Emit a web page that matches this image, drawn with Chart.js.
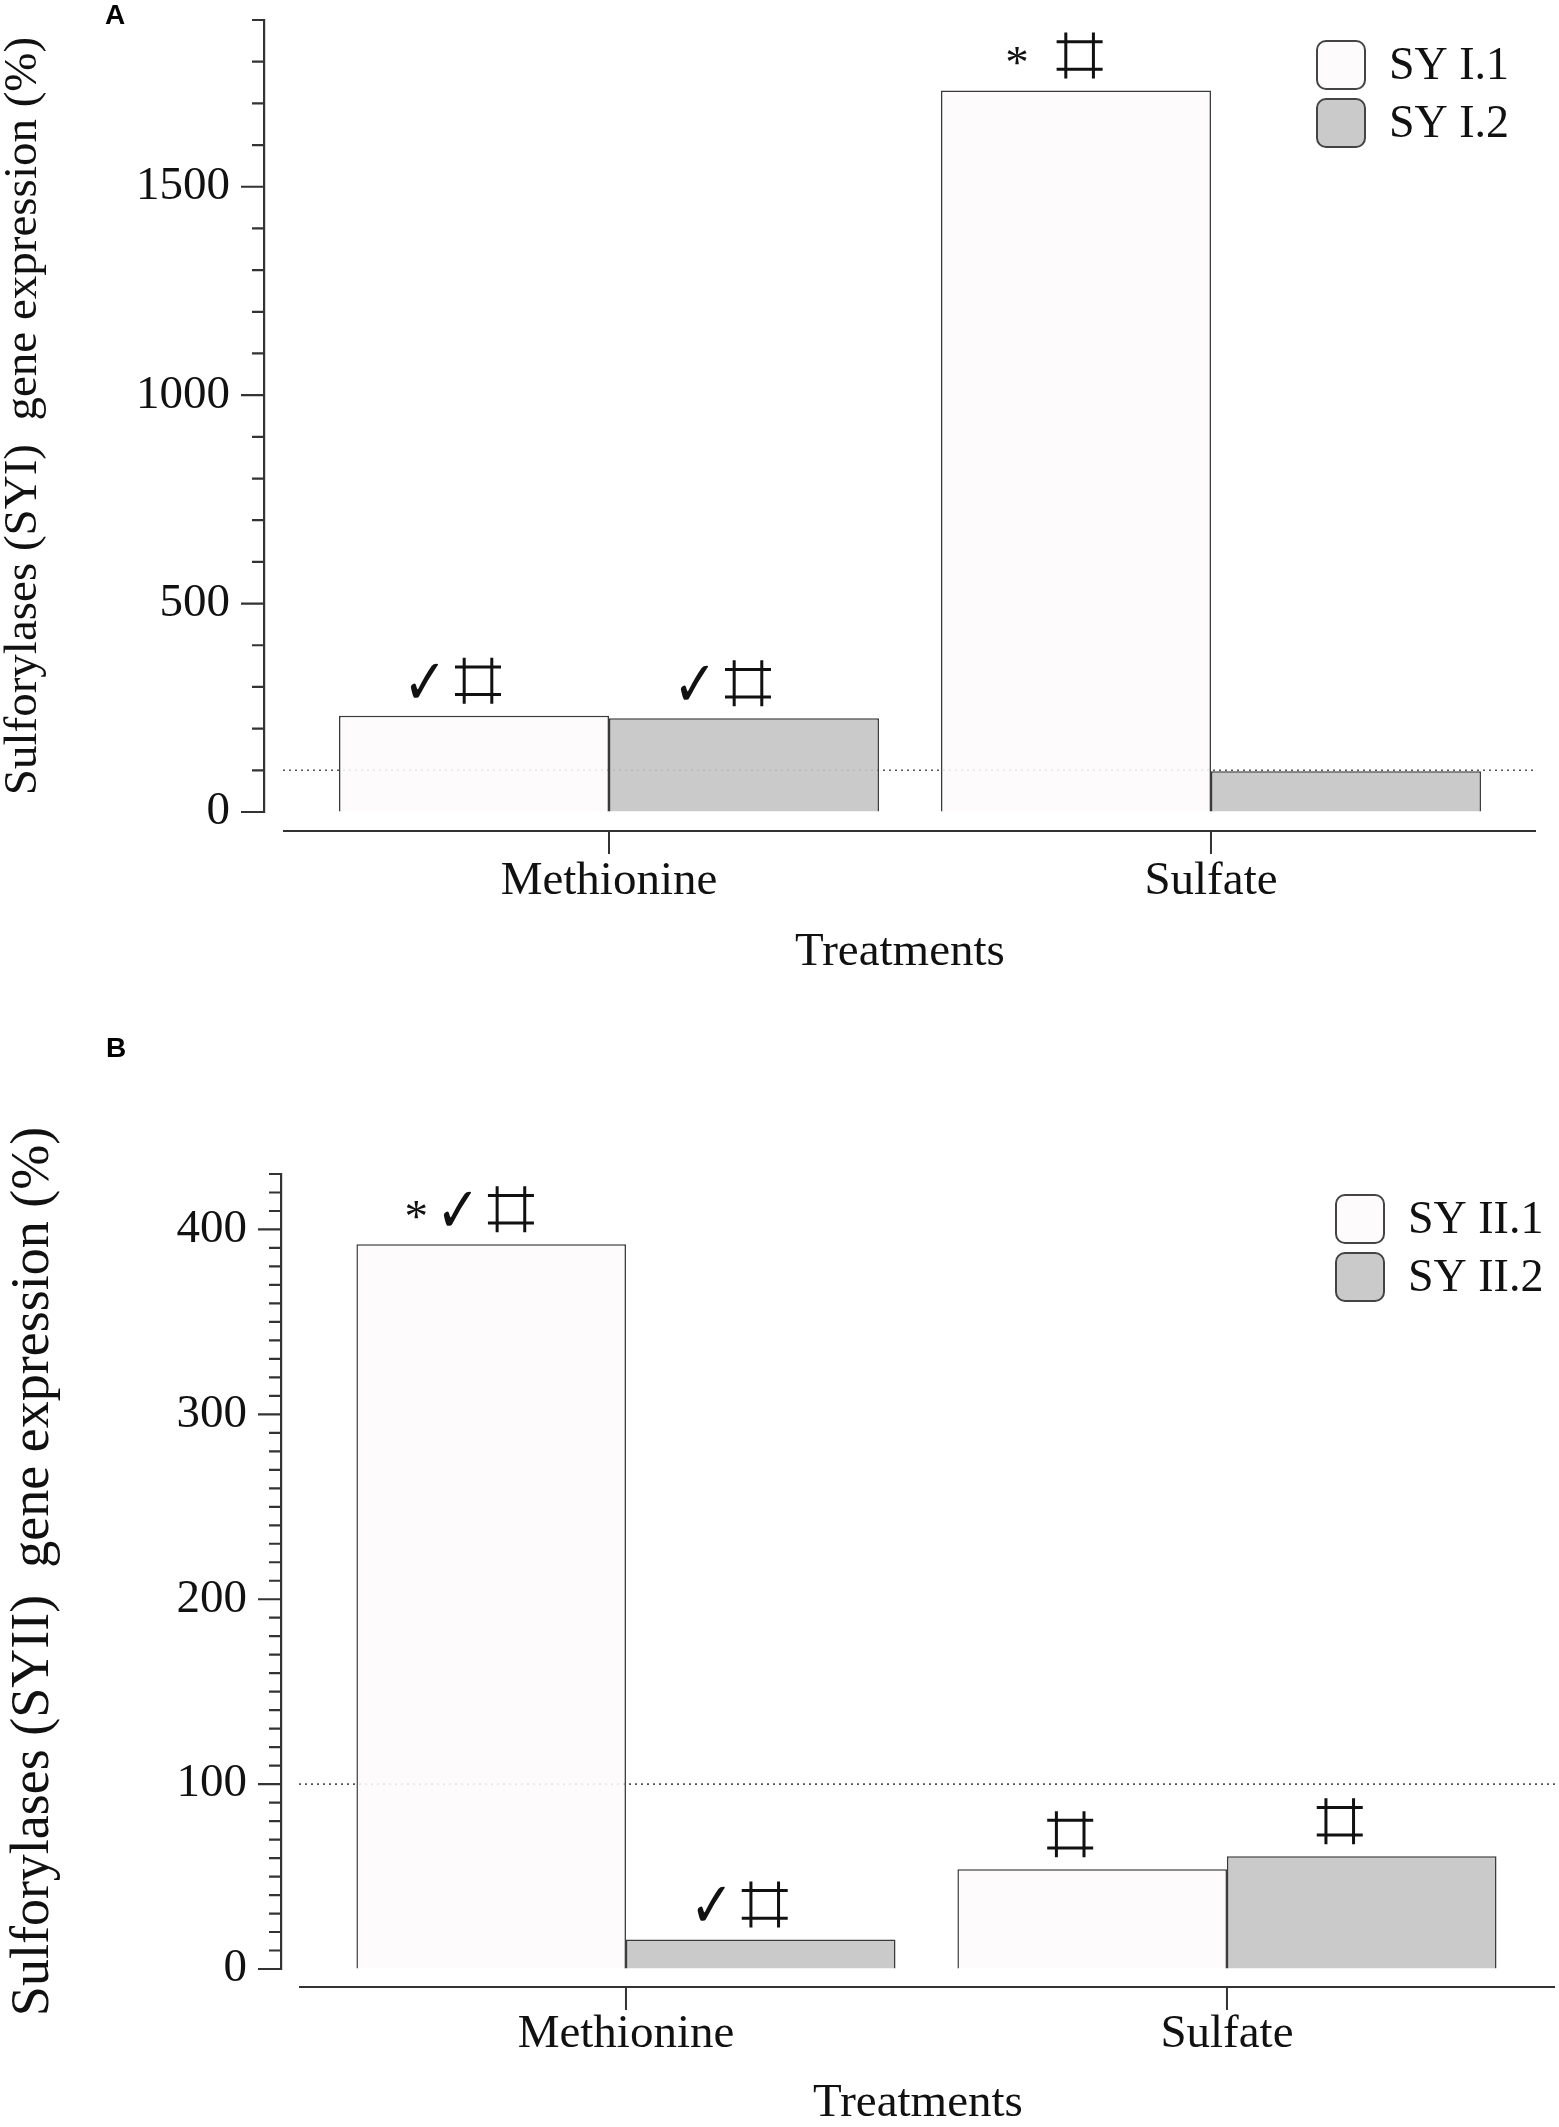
<!DOCTYPE html>
<html lang="en">
<head>
<meta charset="UTF-8">
<title>Sulforylases gene expression</title>
<script src="https://cdn.jsdelivr.net/npm/chart.js@4.4.1/dist/chart.umd.min.js"></script>
<style>
  html, body { margin: 0; padding: 0; background: #fff; }
  body { width: 1559px; height: 2127px; position: relative; overflow: hidden; }
  canvas { position: absolute; left: 0; }
  #chartA { top: 0; }
  #chartB { top: 1000px; }
</style>
</head>
<body>
<canvas id="chartA" width="1559" height="1000"></canvas>
<canvas id="chartB" width="1559" height="1127"></canvas>
<script>
const treatments = ['Methionine', 'Sulfate'];
const controlLevel = 100; // dotted line, control = 100 %

// panel A - SYI
const seriesA = ['SY I.1', 'SY I.2'];
const syI1 = [231, 1731];
const syI2 = [225, 98];
const marksA = [['✓⌗', '* ⌗'], ['✓⌗', '']];
const yTicksA = { max: 1900, step: 100, major: 500 };

// panel B - SYII
const seriesB = ['SY II.1', 'SY II.2'];
const syII1 = [392, 54];
const syII2 = [16, 61];
const marksB = [['*✓⌗', '⌗'], ['✓⌗', '⌗']];
const yTicksB = { max: 430, step: 10, major: 100 };

const serif = '"Liberation Serif", "Times New Roman", serif';
const fills = ['rgba(253,250,251,0.88)', 'rgba(196,196,196,0.9)'];
const ink = '#111';
const checkFont = '64px "DejaVu Sans"';
const checkSqueeze = 0.82;

function drawHash(ctx, x, base, s) {
  // upright hash sign, like the one in the figure
  const a = s * 0.2, b = s * 0.8;
  ctx.save();
  ctx.strokeStyle = ink;
  ctx.lineWidth = 3;
  ctx.beginPath();
  ctx.moveTo(x + a, base - s); ctx.lineTo(x + a, base);
  ctx.moveTo(x + b, base - s); ctx.lineTo(x + b, base);
  ctx.moveTo(x, base - b); ctx.lineTo(x + s, base - b);
  ctx.moveTo(x, base - a); ctx.lineTo(x + s, base - a);
  ctx.stroke();
  ctx.restore();
}

function drawMarks(ctx, text, cx, base) {
  const gap = 8;
  const parts = Array.from(text).map(ch => {
    if (ch === '⌗') return { ch, w: 46 };
    if (ch === '✓') {
      ctx.font = checkFont;
      return { ch, w: ctx.measureText(ch).width * checkSqueeze };
    }
    ctx.font = '47px ' + serif;
    return { ch, w: ctx.measureText(ch).width };
  });
  const total = parts.reduce((t, p) => t + p.w, 0) + gap * (parts.length - 1);
  let x = cx - total / 2;
  ctx.fillStyle = ink;
  ctx.textAlign = 'left';
  ctx.textBaseline = 'alphabetic';
  parts.forEach(p => {
    if (p.ch === '⌗') {
      drawHash(ctx, x, base, 46);
    } else if (p.ch === '✓') {
      ctx.save();
      ctx.font = checkFont;
      ctx.translate(x, base);
      ctx.scale(checkSqueeze, 1);
      ctx.fillText(p.ch, 0, 0);
      ctx.restore();
    } else {
      ctx.font = '47px ' + serif;
      ctx.fillText(p.ch, x, base);
    }
    x += p.w + gap;
  });
}

const panelPlugin = {
  id: 'panel',
  beforeDatasetsDraw(chart, args, opts) {
    const { ctx, chartArea } = chart;
    const y = chart.scales.y.getPixelForValue(controlLevel);
    ctx.save();
    ctx.strokeStyle = '#555';
    ctx.lineWidth = 1.6;
    ctx.setLineDash([2, 4]);
    ctx.beginPath();
    ctx.moveTo(chartArea.left + opts.gap, y);
    ctx.lineTo(chartArea.right, y);
    ctx.stroke();
    ctx.restore();
  },
  afterDatasetsDraw(chart, args, opts) {
    const { ctx, chartArea } = chart;
    const xs = chart.scales.x, ys = chart.scales.y;
    ctx.save();
    ctx.strokeStyle = '#333';

    // x axis line below zero, R style
    const axisY = chartArea.bottom + opts.gap;
    ctx.lineWidth = 2;
    ctx.beginPath();
    ctx.moveTo(chartArea.left + opts.gap, axisY);
    ctx.lineTo(chartArea.right, axisY);
    treatments.forEach((t, i) => {
      const px = xs.getPixelForValue(i);
      ctx.moveTo(px, axisY);
      ctx.lineTo(px, axisY + 23);
    });
    ctx.stroke();

    // y ticks: long at labelled values, short in between
    ctx.lineWidth = 2.2;
    ctx.beginPath();
    for (let k = 0; k * opts.ticks.step <= opts.ticks.max; k++) {
      const v = k * opts.ticks.step;
      const py = ys.getPixelForValue(v);
      const len = v % opts.ticks.major === 0 ? 23 : 12;
      ctx.moveTo(chartArea.left - len, py);
      ctx.lineTo(chartArea.left, py);
    }
    ctx.stroke();

    // significance marks over the bars
    chart.data.datasets.forEach((ds, d) => {
      chart.getDatasetMeta(d).data.forEach((bar, i) => {
        const txt = opts.marks[d][i];
        if (txt) drawMarks(ctx, txt, bar.x - 22, bar.y - 12);
      });
    });

    // legend
    chart.data.datasets.forEach((ds, i) => {
      const s = 48;
      const lx = chartArea.right - 219, ly = chartArea.top + 21 + i * 58;
      ctx.beginPath();
      ctx.roundRect(lx, ly, s, s, 9);
      ctx.fillStyle = ds.backgroundColor;
      ctx.fill();
      ctx.lineWidth = 2;
      ctx.strokeStyle = '#444';
      ctx.stroke();
      ctx.fillStyle = ink;
      ctx.font = '46px ' + serif;
      ctx.textAlign = 'left';
      ctx.textBaseline = 'middle';
      ctx.fillText(ds.label, lx + 72, ly + s / 2 + 2);
    });

    // panel letter
    ctx.fillStyle = '#000';
    ctx.font = 'bold 28px "Liberation Sans", Arial, sans-serif';
    ctx.textAlign = 'left';
    ctx.textBaseline = 'alphabetic';
    ctx.fillText(opts.letter, opts.letterX, opts.letterY);
    ctx.restore();
  }
};

function makeChart(id, cfg) {
  return new Chart(document.getElementById(id), {
    type: 'bar',
    data: {
      datasets: cfg.series.map((name, d) => ({
        label: name,
        data: cfg.values[d].map((v, i) => ({ x: i, y: v })),
        backgroundColor: fills[d],
        borderColor: '#3a3a3a',
        borderWidth: 1.5,
        categoryPercentage: 0.897,
        barPercentage: 1.0
      }))
    },
    options: {
      responsive: false,
      animation: false,
      devicePixelRatio: 1,
      layout: { padding: { top: cfg.top, right: cfg.right, left: 0, bottom: 0 } },
      plugins: {
        legend: { display: false },
        tooltip: { enabled: false },
        panel: {
          gap: cfg.gap, ticks: cfg.ticks, marks: cfg.marks,
          letter: cfg.letter, letterX: cfg.letterX, letterY: cfg.letterY
        }
      },
      scales: {
        x: {
          type: 'linear',
          offset: false,
          min: cfg.xMin,
          max: cfg.xMax,
          afterBuildTicks: s => { s.ticks = treatments.map((t, i) => ({ value: i })); },
          afterFit: s => { s.height = cfg.xHeight; s.paddingLeft = 0; s.paddingRight = 0; },
          ticks: {
            autoSkip: false, maxRotation: 0, padding: cfg.xLabelPad, color: ink,
            font: { family: serif, size: 47 },
            callback: v => treatments[v]
          },
          grid: { display: false, drawTicks: false, offset: false },
          border: { display: false },
          title: {
            display: true, text: 'Treatments', color: ink,
            font: { family: serif, size: 47, lineHeight: 1 },
            padding: { top: 0, bottom: cfg.xTitlePad }
          }
        },
        y: {
          min: 0,
          max: cfg.ticks.max,
          afterFit: s => { s.width = cfg.yWidth; s.paddingTop = 0; s.paddingBottom = 0; },
          ticks: {
            stepSize: cfg.ticks.step, maxTicksLimit: 1000, autoSkip: false,
            padding: 11, color: ink, font: { family: serif, size: 47 },
            callback: v => (v % cfg.ticks.major === 0 ? String(v) : null)
          },
          grid: {
            drawOnChartArea: false, drawTicks: true, tickLength: 23,
            color: 'rgba(0,0,0,0)', tickColor: 'rgba(0,0,0,0)'
          },
          border: { display: true, color: '#333', width: 2.2 },
          title: {
            display: true, text: cfg.yTitle, color: ink,
            font: { family: serif, size: cfg.yTitleSize, lineHeight: 1 },
            padding: { top: cfg.yTitlePad, bottom: 0 }
          }
        }
      }
    },
    plugins: [panelPlugin]
  });
}

makeChart('chartA', {
  series: seriesA, values: [syI1, syI2], marks: marksA, ticks: yTicksA,
  yTitle: 'Sulforylases (SYI)  gene expression (%)', yTitleSize: 47, yTitlePad: 0,
  top: 20, right: 23, yWidth: 264, xHeight: 188, gap: 19,
  xMin: -0.5731, xMax: 1.5399, xLabelPad: 41, xTitlePad: 24,
  letter: 'A', letterX: 105, letterY: 24
});

makeChart('chartB', {
  series: seriesB, values: [syII1, syII2], marks: marksB, ticks: yTicksB,
  yTitle: 'Sulforylases (SYII)  gene expression (%)', yTitleSize: 54, yTitlePad: 7,
  top: 174, right: 4, yWidth: 281, xHeight: 158, gap: 18,
  xMin: -0.574, xMax: 1.5458, xLabelPad: 37, xTitlePad: 0,
  letter: 'B', letterX: 106, letterY: 57
});
</script>
</body>
</html>
